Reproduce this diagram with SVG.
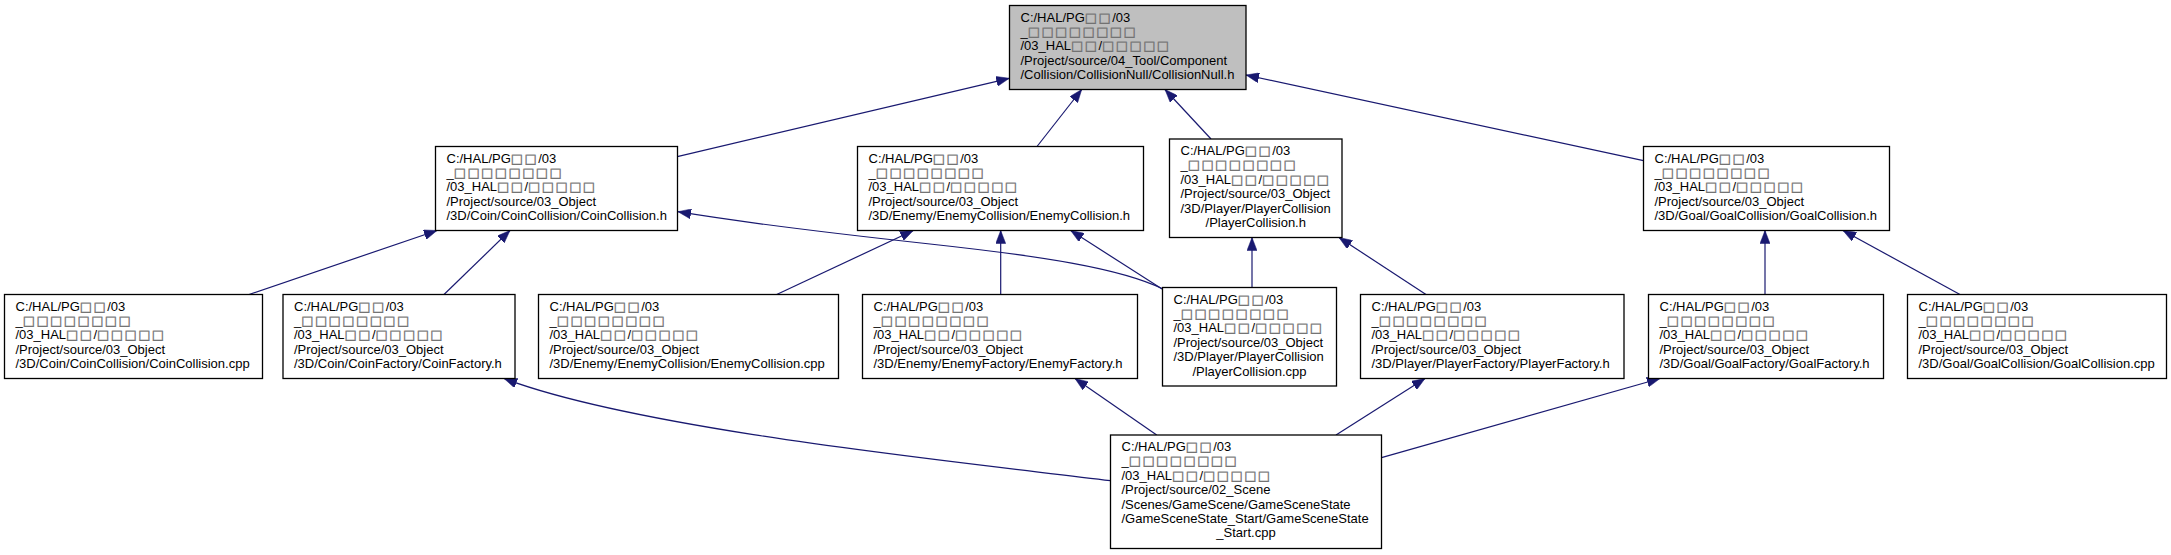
<svg xmlns="http://www.w3.org/2000/svg" width="2171" height="555" viewBox="0 0 2171 555">
<style>
.bg{fill:#ffffff}
.n rect{fill:#ffffff;stroke:#000000;stroke-width:1.3}
.n rect.root{fill:#bfbfbf}
.n text{font-family:"Liberation Sans",Arial,Helvetica,sans-serif;font-size:13px;fill:#000000}
.n text.c{text-anchor:middle}
.q{font-family:"DejaVu Sans",sans-serif;font-size:13px;letter-spacing:1.4px;fill:#707070;stroke:#707070;stroke-width:0.35}
.e path{fill:none;stroke:#191970;stroke-width:1.2;marker-end:url(#ah)}
</style>
<defs>
<marker id="ah" markerUnits="userSpaceOnUse" markerWidth="13" markerHeight="10" viewBox="0 0 13 10" refX="13" refY="5" orient="auto">
<path d="M0,0 L13,5 L0,10 z" fill="#191970" stroke="#191970" stroke-width="0.5"/>
</marker>
</defs>
<rect class="bg" x="0" y="0" width="2171" height="555"/>

<g id="connectors" class="e">
<path d="M677.3,156.7 L1009.3,78.3"/>
<path d="M1037,146.5 L1081.7,89.5"/>
<path d="M1211,139 L1165,89.5"/>
<path d="M1643.5,160.7 L1246,75"/>
<path d="M249,294.5 L437,230.5"/>
<path d="M444,294.5 L510,230.5"/>
<path d="M1163,289 C1120,268 1040,256 930,244 S740,222 678,211.7"/>
<path d="M776.7,294.5 L913.3,230.5"/>
<path d="M1000.7,294.5 L1000.7,230.5"/>
<path d="M1162.5,289.3 L1070.7,230.5"/>
<path d="M1252,287.5 L1252,237.5"/>
<path d="M1426,294.5 L1339,237.5"/>
<path d="M1765,294.5 L1765,230.5"/>
<path d="M1960,294.5 L1843,230.5"/>
<path d="M1110.5,480.7 C960,462 640,430 504,378.5"/>
<path d="M1156.7,435 L1075,378.5"/>
<path d="M1336,435 L1425,378.5"/>
<path d="M1381.5,457.7 L1660,378.5"/>
</g>

<g id="node_collisionnull_h" class="n">
<rect class="root" x="1009.5" y="5.5" width="236.5" height="84"/>
<text x="1020.5" y="21.5">C:/HAL/PG<tspan class="q">□□</tspan>/03</text>
<text x="1020.5" y="35.9">_<tspan class="q">□□□□□□□□</tspan></text>
<text x="1020.5" y="50.3">/03_HAL<tspan class="q">□□</tspan>/<tspan class="q">□□□□□</tspan></text>
<text x="1020.5" y="64.7">/Project/source/04_Tool/Component</text>
<text x="1020.5" y="79.1">/Collision/CollisionNull/CollisionNull.h</text>
</g>

<g id="node_coincollision_h" class="n">
<rect x="435.5" y="146.5" width="242" height="84"/>
<text x="446.5" y="162.5">C:/HAL/PG<tspan class="q">□□</tspan>/03</text>
<text x="446.5" y="176.9">_<tspan class="q">□□□□□□□□</tspan></text>
<text x="446.5" y="191.3">/03_HAL<tspan class="q">□□</tspan>/<tspan class="q">□□□□□</tspan></text>
<text x="446.5" y="205.7">/Project/source/03_Object</text>
<text x="446.5" y="220.1">/3D/Coin/CoinCollision/CoinCollision.h</text>
</g>

<g id="node_enemycollision_h" class="n">
<rect x="857.5" y="146.5" width="286" height="84"/>
<text x="868.5" y="162.5">C:/HAL/PG<tspan class="q">□□</tspan>/03</text>
<text x="868.5" y="176.9">_<tspan class="q">□□□□□□□□</tspan></text>
<text x="868.5" y="191.3">/03_HAL<tspan class="q">□□</tspan>/<tspan class="q">□□□□□</tspan></text>
<text x="868.5" y="205.7">/Project/source/03_Object</text>
<text x="868.5" y="220.1">/3D/Enemy/EnemyCollision/EnemyCollision.h</text>
</g>

<g id="node_playercollision_h" class="n">
<rect x="1169.5" y="139" width="172.5" height="98.5"/>
<text x="1180.5" y="155">C:/HAL/PG<tspan class="q">□□</tspan>/03</text>
<text x="1180.5" y="169.4">_<tspan class="q">□□□□□□□□</tspan></text>
<text x="1180.5" y="183.8">/03_HAL<tspan class="q">□□</tspan>/<tspan class="q">□□□□□</tspan></text>
<text x="1180.5" y="198.2">/Project/source/03_Object</text>
<text x="1180.5" y="212.6">/3D/Player/PlayerCollision</text>
<text class="c" x="1255.75" y="227">/PlayerCollision.h</text>
</g>

<g id="node_goalcollision_h" class="n">
<rect x="1643.5" y="146.5" width="246" height="84"/>
<text x="1654.5" y="162.5">C:/HAL/PG<tspan class="q">□□</tspan>/03</text>
<text x="1654.5" y="176.9">_<tspan class="q">□□□□□□□□</tspan></text>
<text x="1654.5" y="191.3">/03_HAL<tspan class="q">□□</tspan>/<tspan class="q">□□□□□</tspan></text>
<text x="1654.5" y="205.7">/Project/source/03_Object</text>
<text x="1654.5" y="220.1">/3D/Goal/GoalCollision/GoalCollision.h</text>
</g>

<g id="node_coincollision_cpp" class="n">
<rect x="4.5" y="294.5" width="258" height="84"/>
<text x="15.5" y="310.5">C:/HAL/PG<tspan class="q">□□</tspan>/03</text>
<text x="15.5" y="324.9">_<tspan class="q">□□□□□□□□</tspan></text>
<text x="15.5" y="339.3">/03_HAL<tspan class="q">□□</tspan>/<tspan class="q">□□□□□</tspan></text>
<text x="15.5" y="353.7">/Project/source/03_Object</text>
<text x="15.5" y="368.1">/3D/Coin/CoinCollision/CoinCollision.cpp</text>
</g>

<g id="node_coinfactory_h" class="n">
<rect x="283" y="294.5" width="232" height="84"/>
<text x="294" y="310.5">C:/HAL/PG<tspan class="q">□□</tspan>/03</text>
<text x="294" y="324.9">_<tspan class="q">□□□□□□□□</tspan></text>
<text x="294" y="339.3">/03_HAL<tspan class="q">□□</tspan>/<tspan class="q">□□□□□</tspan></text>
<text x="294" y="353.7">/Project/source/03_Object</text>
<text x="294" y="368.1">/3D/Coin/CoinFactory/CoinFactory.h</text>
</g>

<g id="node_enemycollision_cpp" class="n">
<rect x="538.5" y="294.5" width="300" height="84"/>
<text x="549.5" y="310.5">C:/HAL/PG<tspan class="q">□□</tspan>/03</text>
<text x="549.5" y="324.9">_<tspan class="q">□□□□□□□□</tspan></text>
<text x="549.5" y="339.3">/03_HAL<tspan class="q">□□</tspan>/<tspan class="q">□□□□□</tspan></text>
<text x="549.5" y="353.7">/Project/source/03_Object</text>
<text x="549.5" y="368.1">/3D/Enemy/EnemyCollision/EnemyCollision.cpp</text>
</g>

<g id="node_enemyfactory_h" class="n">
<rect x="862.5" y="294.5" width="275" height="84"/>
<text x="873.5" y="310.5">C:/HAL/PG<tspan class="q">□□</tspan>/03</text>
<text x="873.5" y="324.9">_<tspan class="q">□□□□□□□□</tspan></text>
<text x="873.5" y="339.3">/03_HAL<tspan class="q">□□</tspan>/<tspan class="q">□□□□□</tspan></text>
<text x="873.5" y="353.7">/Project/source/03_Object</text>
<text x="873.5" y="368.1">/3D/Enemy/EnemyFactory/EnemyFactory.h</text>
</g>

<g id="node_playercollision_cpp" class="n">
<rect x="1162.5" y="287.5" width="174" height="98.5"/>
<text x="1173.5" y="303.5">C:/HAL/PG<tspan class="q">□□</tspan>/03</text>
<text x="1173.5" y="317.9">_<tspan class="q">□□□□□□□□</tspan></text>
<text x="1173.5" y="332.3">/03_HAL<tspan class="q">□□</tspan>/<tspan class="q">□□□□□</tspan></text>
<text x="1173.5" y="346.7">/Project/source/03_Object</text>
<text x="1173.5" y="361.1">/3D/Player/PlayerCollision</text>
<text class="c" x="1249.5" y="375.5">/PlayerCollision.cpp</text>
</g>

<g id="node_playerfactory_h" class="n">
<rect x="1360.5" y="294.5" width="263.5" height="84"/>
<text x="1371.5" y="310.5">C:/HAL/PG<tspan class="q">□□</tspan>/03</text>
<text x="1371.5" y="324.9">_<tspan class="q">□□□□□□□□</tspan></text>
<text x="1371.5" y="339.3">/03_HAL<tspan class="q">□□</tspan>/<tspan class="q">□□□□□</tspan></text>
<text x="1371.5" y="353.7">/Project/source/03_Object</text>
<text x="1371.5" y="368.1">/3D/Player/PlayerFactory/PlayerFactory.h</text>
</g>

<g id="node_goalfactory_h" class="n">
<rect x="1648.5" y="294.5" width="235" height="84"/>
<text x="1659.5" y="310.5">C:/HAL/PG<tspan class="q">□□</tspan>/03</text>
<text x="1659.5" y="324.9">_<tspan class="q">□□□□□□□□</tspan></text>
<text x="1659.5" y="339.3">/03_HAL<tspan class="q">□□</tspan>/<tspan class="q">□□□□□</tspan></text>
<text x="1659.5" y="353.7">/Project/source/03_Object</text>
<text x="1659.5" y="368.1">/3D/Goal/GoalFactory/GoalFactory.h</text>
</g>

<g id="node_goalcollision_cpp" class="n">
<rect x="1907.5" y="294.5" width="259" height="84"/>
<text x="1918.5" y="310.5">C:/HAL/PG<tspan class="q">□□</tspan>/03</text>
<text x="1918.5" y="324.9">_<tspan class="q">□□□□□□□□</tspan></text>
<text x="1918.5" y="339.3">/03_HAL<tspan class="q">□□</tspan>/<tspan class="q">□□□□□</tspan></text>
<text x="1918.5" y="353.7">/Project/source/03_Object</text>
<text x="1918.5" y="368.1">/3D/Goal/GoalCollision/GoalCollision.cpp</text>
</g>

<g id="node_gamescenestate_start_cpp" class="n">
<rect x="1110.5" y="435" width="271" height="113.5"/>
<text x="1121.5" y="451">C:/HAL/PG<tspan class="q">□□</tspan>/03</text>
<text x="1121.5" y="465.4">_<tspan class="q">□□□□□□□□</tspan></text>
<text x="1121.5" y="479.8">/03_HAL<tspan class="q">□□</tspan>/<tspan class="q">□□□□□</tspan></text>
<text x="1121.5" y="494.2">/Project/source/02_Scene</text>
<text x="1121.5" y="508.6">/Scenes/GameScene/GameSceneState</text>
<text x="1121.5" y="523">/GameSceneState_Start/GameSceneState</text>
<text class="c" x="1246" y="537.4">_Start.cpp</text>
</g>
</svg>
